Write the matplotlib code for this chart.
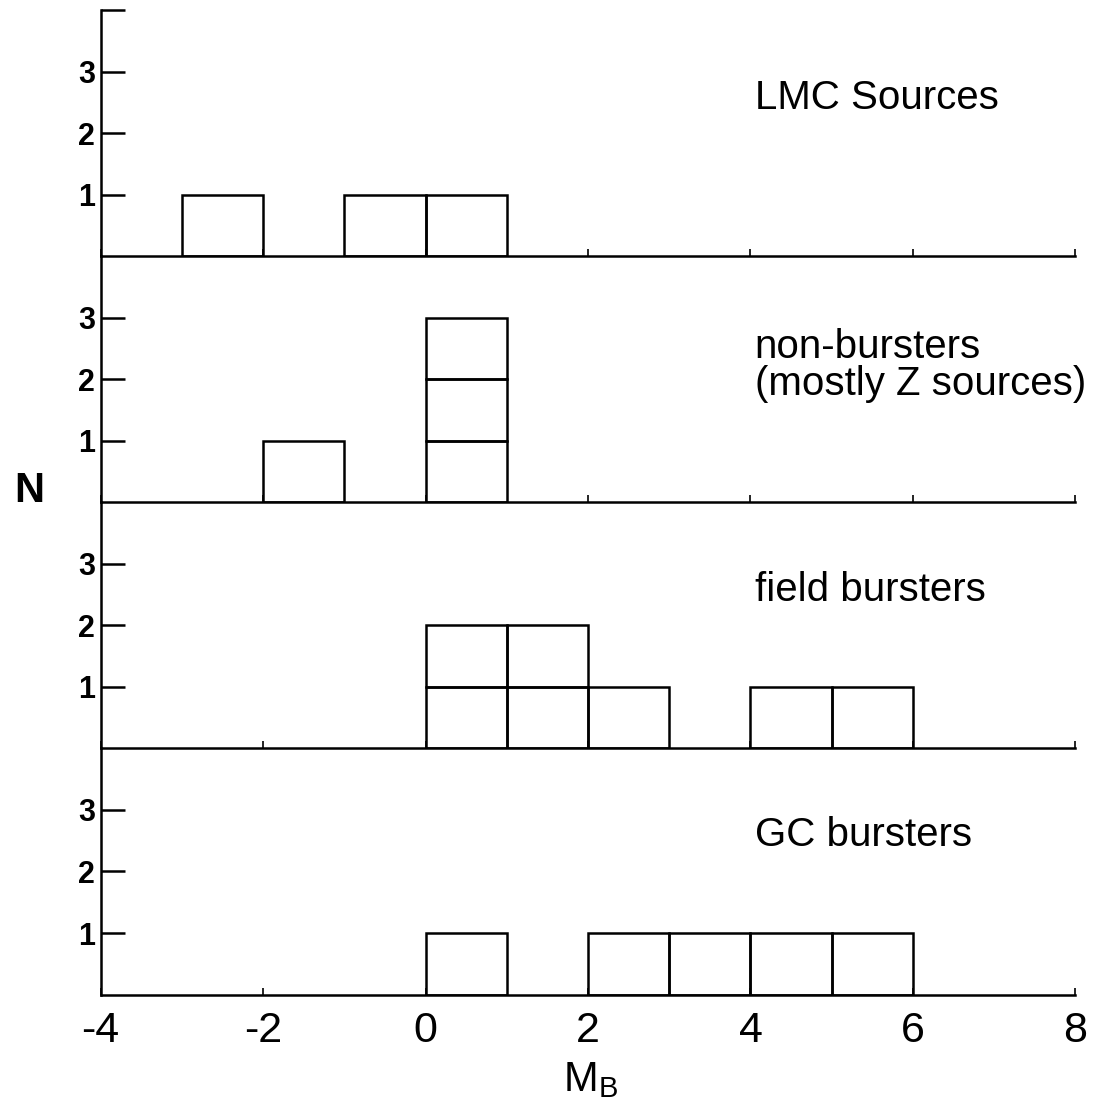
import matplotlib
matplotlib.use("Agg")
import matplotlib.pyplot as plt

plt.rcParams['font.family'] = ['Liberation Sans', 'DejaVu Sans']

# Bin left edges and counts per panel
panel_titles = ["LMC Sources", "non-bursters\n(mostly Z sources)", "field bursters", "GC bursters"]
lmc_bins = [-3, -1, 0]
lmc_counts = [1, 1, 1]
nonb_bins = [-2, 0]
nonb_counts = [1, 3]
field_bins = [0, 1, 2, 4, 5]
field_counts = [2, 2, 1, 1, 1]
gc_bins = [0, 2, 3, 4, 5]
gc_counts = [1, 1, 1, 1, 1]

panels = [(lmc_bins, lmc_counts), (nonb_bins, nonb_counts),
          (field_bins, field_counts), (gc_bins, gc_counts)]
title_y = [2.57, 2.22, 2.57, 2.6]

xticks = [-4, -2, 0, 2, 4, 6, 8]
xticklabels = ["-4", "-2", "0", "2", "4", "6", "8"]
yticks = [1, 2, 3]

fig = plt.figure(figsize=(10.94, 11.10), dpi=100)
left, right = 0.092, 0.983
bottom0, top0 = 0.104, 0.991
h = (top0 - bottom0) / 4
lw = 1.8

for i, ((bins, counts), title) in enumerate(zip(panels, panel_titles)):
    b = top0 - (i + 1) * h
    ax = fig.add_axes([left, b, right - left, h])
    for x, c in zip(bins, counts):
        for k in range(c):
            ax.bar(x, 1, bottom=k, width=1, align='edge', fill=False,
                   edgecolor='black', linewidth=lw)
    ax.set_xlim(-4, 8)
    ax.set_ylim(0, 4)
    ax.spines['top'].set_visible(False)
    ax.spines['right'].set_visible(False)
    ax.spines['left'].set_linewidth(lw)
    ax.spines['bottom'].set_linewidth(lw)
    ax.patch.set_alpha(0)
    if i == 0:
        ax.set_yticks(yticks + [4])
        ax.set_yticklabels([str(t) for t in yticks] + [""])
    else:
        ax.set_yticks(yticks)
        ax.set_yticklabels([str(t) for t in yticks])
    for t in ax.get_yticklabels():
        t.set_fontweight('bold')
    ax.tick_params(axis='y', direction='in', length=17, width=lw,
                   labelsize=22, pad=4)
    ax.set_xticks(xticks)
    ax.set_xticklabels(xticklabels)
    ax.tick_params(axis='x', direction='in', length=5, width=1.2,
                   labelsize=31, pad=12)
    if i < 3:
        ax.tick_params(axis='x', labelbottom=False)
    ax.text(4.05, title_y[i], title, fontsize=29, ha='left', va='center',
            linespacing=0.95)

fig.text(0.027, 0.558, "N", fontsize=30, fontweight='bold', ha='center', va='center')
fig.text(0.54, 0.027, r"M$_\mathregular{B}$", fontsize=30, ha='center', va='center')

fig.savefig("out.png", dpi=100)
